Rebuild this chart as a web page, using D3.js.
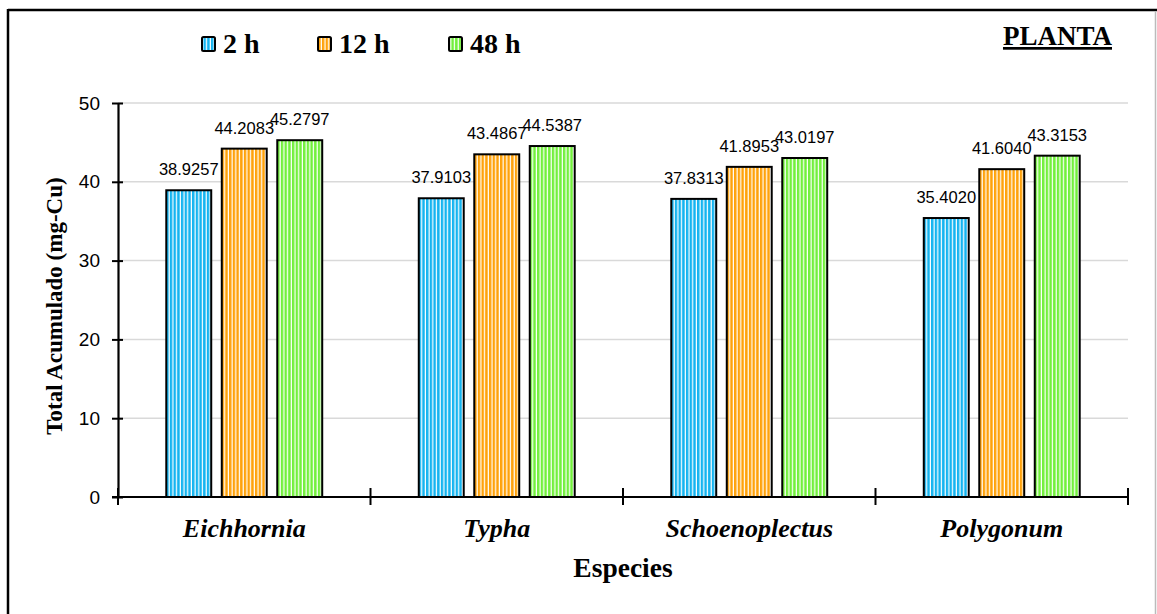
<!DOCTYPE html>
<html><head><meta charset="utf-8">
<script src="https://cdn.jsdelivr.net/npm/d3@7"></script>
<style>html,body{margin:0;padding:0;background:#fff;}svg{display:block;}</style>
</head><body>
<svg id="chart" width="1157" height="614"></svg>
<script>
const categories = ["Eichhornia", "Typha", "Schoenoplectus", "Polygonum"];
const seriesNames = ["2 h", "12 h", "48 h"];
const values2h  = [38.9257, 37.9103, 37.8313, 35.4020];
const values12h = [44.2083, 43.4867, 41.8953, 41.6040];
const values48h = [45.2797, 44.5387, 43.0197, 43.3153];
const yTicks = [0, 10, 20, 30, 40, 50];
const colors = ["#14b4f0", "#ffa20a", "#72f03c"];

(function(){
const seriesValues = [values2h, values12h, values48h];
const svg = d3.select("#chart");
const serif = "'Liberation Serif', 'Times New Roman', serif";
const sans = "'Liberation Sans', Arial, sans-serif";

// frame
svg.append("line").attr("x1",8).attr("x2",1157).attr("y1",10).attr("y2",10).attr("stroke","#000").attr("stroke-width",2.5);
svg.append("line").attr("x1",8).attr("x2",8).attr("y1",9).attr("y2",614).attr("stroke","#000").attr("stroke-width",2.5);
svg.append("line").attr("x1",1155.5).attr("x2",1155.5).attr("y1",11).attr("y2",614).attr("stroke","#bbb").attr("stroke-width",1.5);

// patterns
const defs = svg.append("defs");
colors.forEach((c,i)=>{
  const p = defs.append("pattern").attr("id","pat"+i).attr("patternUnits","userSpaceOnUse")
    .attr("width",3.7).attr("height",10);
  p.append("rect").attr("width",3.7).attr("height",10).attr("fill","#fff");
  p.append("rect").attr("width",2.5).attr("height",10).attr("fill",c);
});

const pLeft = 118, pRight = 1128, pTop = 103, pBottom = 497;
const y = d3.scaleLinear().domain([0,50]).range([pBottom, pTop]);
const x0 = d3.scaleBand().domain(categories).range([pLeft, pRight]).padding(0);
const x1 = d3.scaleBand().domain(seriesNames).range([0, x0.bandwidth()]).paddingInner(0.19).paddingOuter(0.87);

// gridlines
svg.append("g").selectAll("line").data(yTicks.filter(d=>d>0)).join("line")
  .attr("x1",pLeft).attr("x2",pRight).attr("y1",d=>y(d)).attr("y2",d=>y(d))
  .attr("stroke","#d9d9d9").attr("stroke-width",1.5);

// bars
const groups = svg.append("g").selectAll("g").data(categories).join("g")
  .attr("transform",d=>`translate(${x0(d)},0)`);
groups.each(function(cat, ci){
  const g = d3.select(this);
  seriesNames.forEach((s, si)=>{
    const v = seriesValues[si][ci];
    g.append("rect").attr("x",x1(s)).attr("y",y(v)).attr("width",x1.bandwidth()).attr("height",y(0)-y(v))
      .attr("fill",`url(#pat${si})`).attr("stroke","#000").attr("stroke-width",2);
    g.append("text").attr("x",x1(s)+x1.bandwidth()/2).attr("y",y(v)-15)
      .attr("text-anchor","middle").attr("font-family",sans)
      .attr("font-size",16.5).attr("fill","#000").text(v.toFixed(4));
  });
});

// y axis
const yAxis = d3.axisLeft(y).tickValues(yTicks).tickSize(0).tickPadding(18);
const yg = svg.append("g").attr("transform",`translate(${pLeft},0)`).call(yAxis);
yg.select(".domain").attr("stroke","#000").attr("stroke-width",2.2);
yg.selectAll("text").attr("font-family",sans).attr("font-size",19).attr("fill","#000");
yg.selectAll(".tick").append("line").attr("x1",-6).attr("x2",5).attr("stroke","#000").attr("stroke-width",2);

// x axis
svg.append("line").attr("x1",pLeft-6).attr("x2",pRight).attr("y1",pBottom).attr("y2",pBottom).attr("stroke","#000").attr("stroke-width",2.2);
const bounds = categories.map(c=>x0(c)).concat([pRight]);
svg.append("g").selectAll("line").data(bounds).join("line")
  .attr("x1",d=>d).attr("x2",d=>d).attr("y1",pBottom-9).attr("y2",pBottom+8)
  .attr("stroke","#000").attr("stroke-width",2);
svg.append("g").selectAll("text").data(categories).join("text")
  .attr("x",d=>x0(d)+x0.bandwidth()/2).attr("y",537)
  .attr("text-anchor","middle").attr("font-family",serif)
  .attr("font-weight","bold").attr("font-style","italic").attr("font-size",26).attr("fill","#000").text(d=>d);

// axis titles
svg.append("text").attr("x",(pLeft+pRight)/2).attr("y",577).attr("text-anchor","middle")
  .attr("font-family",serif).attr("font-weight","bold").attr("font-size",27.5).text("Especies");
svg.append("text").attr("transform","translate(62,306) rotate(-90)").attr("text-anchor","middle")
  .attr("font-family",serif).attr("font-weight","bold").attr("font-size",23).text("Total Acumulado (mg-Cu)");

// legend
const legendX = [202, 318, 449];
seriesNames.forEach((s,i)=>{
  svg.append("rect").attr("x",legendX[i]).attr("y",37).attr("width",13).attr("height",14).attr("rx",1.5)
    .attr("fill",`url(#pat${i})`).attr("stroke","#000").attr("stroke-width",2);
  svg.append("text").attr("x",legendX[i]+21).attr("y",53)
    .attr("font-family",serif).attr("font-weight","bold").attr("font-size",28).text(s);
});

// PLANTA
svg.append("text").attr("x",1112).attr("y",45).attr("text-anchor","end")
  .attr("font-family",serif).attr("font-weight","bold").attr("font-size",27)
  .attr("text-decoration","underline").text("PLANTA");
})();
</script>
</body></html>
